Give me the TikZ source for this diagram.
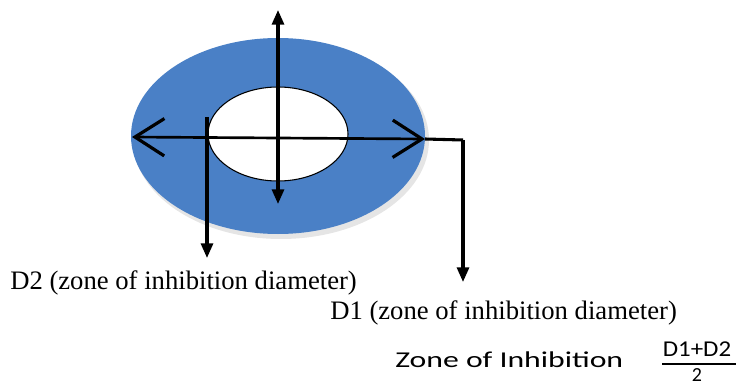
\documentclass[tikz,border=0pt]{standalone}
\usepackage{graphicx}
\usepackage{fontspec}
\setmainfont{Liberation Serif}
\newfontfamily\calfont{Carlito}
\usetikzlibrary{arrows.meta,positioning,calc}
\definecolor{zoneblue}{RGB}{74,128,198}
\begin{document}
\begin{tikzpicture}[x=0.75pt,y=-0.75pt,
  thick arr/.style={line width=2.3pt,-{Triangle[length=11pt,width=9pt]}},
  barb arr/.style={line width=2pt,{Straight Barb[length=22pt,width=28pt,line width=2.4pt]}-{Straight Barb[length=22pt,width=28pt,line width=2.4pt]}},
  lab/.style={font=\fontsize{20}{24}\selectfont,anchor=base west,inner sep=0pt},
  cal/.style={font=\calfont\fontsize{17}{20}\selectfont,inner sep=0pt}]
 \useasboundingbox (0,0) rectangle (736,385);
 % plate zone
 \fill[black!10] (281,140) ellipse (148 and 99);
 \fill[zoneblue] (278,136) ellipse (147 and 98);
 \draw[fill=white,line width=0.8pt] (278,134) ellipse (70 and 47);
 % measuring arrows
 \coordinate (lt) at (132,137);
 \coordinate (rt) at (425,139);
 \coordinate (top) at (278,10);
 \coordinate (bot) at (278,204);
 \coordinate (corner) at (463,140);
 \coordinate (dtwo) at (207,117);
 \draw[barb arr] (lt) -- (rt);
 \draw[line width=2.3pt,{Triangle[length=11pt,width=9pt]}-{Triangle[length=11pt,width=9pt]}] (top) -- (bot);
 \draw[line width=2.3pt] (rt) -- (corner);
 \node[lab] (d2) at (10,289) {D2 (zone of inhibition diameter)};
 \node[lab] (d1) at (330,319) {D1 (zone of inhibition diameter)};
 \draw[thick arr] (dtwo) -- (dtwo |- 0,258);
 \draw[thick arr] (corner) -- (corner |- 0,282);
 % formula
 \node[cal,anchor=base west] (zone) at (395,367) {\scalebox{1.4}[1]{Zone of Inhibition}};
 \node[cal] (num) at (697,349) {\scalebox{1.1}[1]{D1+D2}};
 \draw[line width=1.5pt] (662,364) -- (736,364);
 \node[cal,font=\calfont\fontsize{15}{18}\selectfont] (den) at (697,375) {2};
\end{tikzpicture}
\end{document}
